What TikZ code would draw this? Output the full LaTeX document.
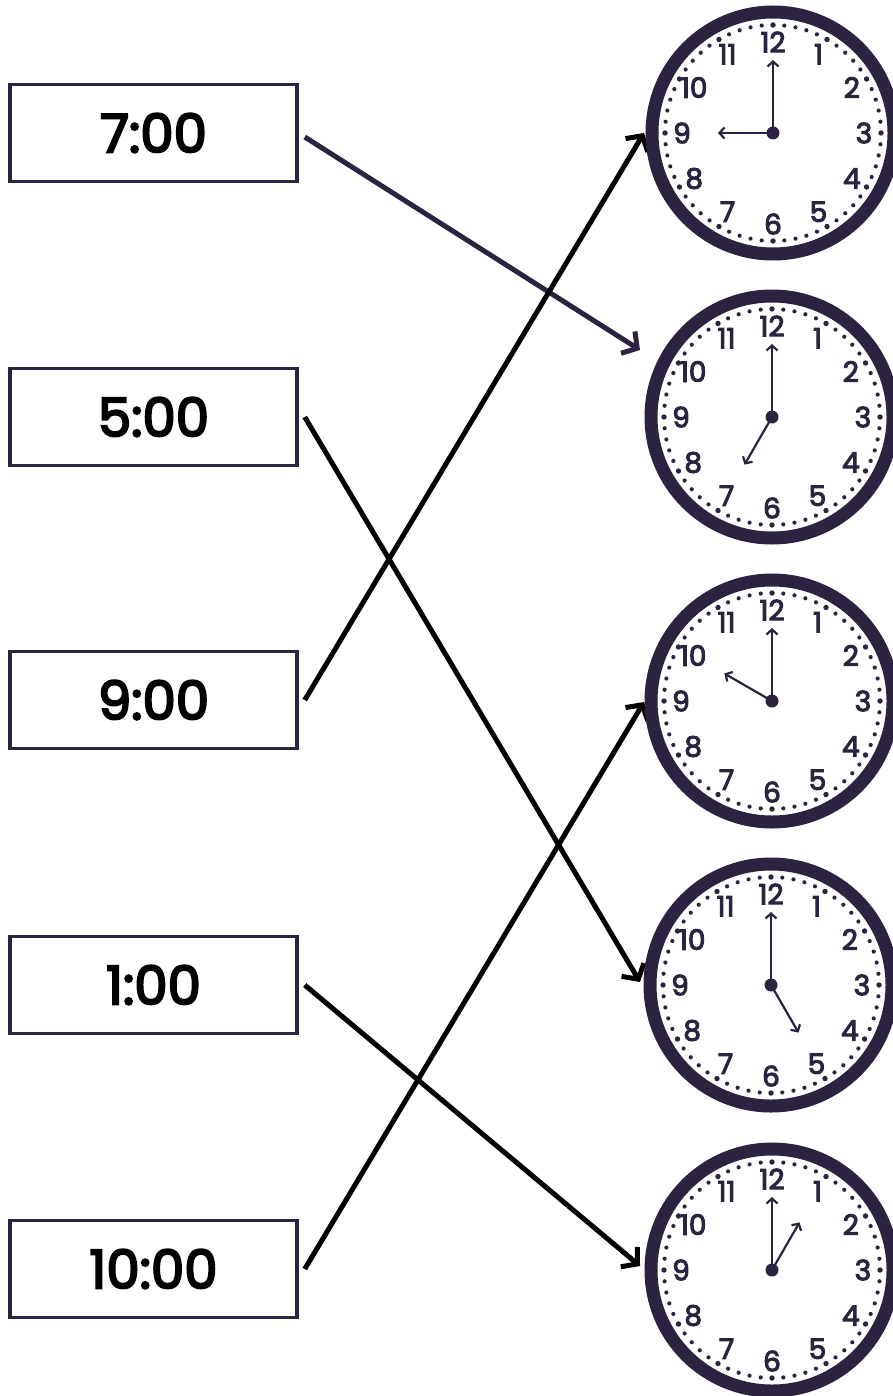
\documentclass[tikz,border=0pt]{standalone}
\usepackage{fontspec}
\setmainfont{Poppins}
\newfontfamily\labfont{Poppins}[FakeBold=4]
\newfontfamily\numfont{Poppins}[FakeBold=3.5]
\usetikzlibrary{arrows.meta}
\definecolor{ink}{HTML}{2B2340}
\tikzset{
  tbox/.style={draw=ink, line width=3.5pt, fill=white, minimum width=287pt, minimum height=97pt,
    inner sep=0pt, font=\labfont\fontsize{53}{60}\selectfont},
  link/.style={line width=5pt, -{Straight Barb[length=11pt,width=26pt,line width=5pt]}},
  hand/.style={ink, line width=2.2pt, -{Straight Barb[length=5pt,width=11pt,line width=2.2pt]}},
  numtxt/.style={text=ink, inner sep=0pt, font=\numfont\fontsize{28}{28}\selectfont},
  clock/.pic={
    \fill[white] (0,0) circle[radius=121pt];
    \draw[ink, line width=13pt] (0,0) circle[radius=121pt];
    \foreach \m in {0,...,59} {\fill[ink] ({108*sin(6*\m)},{-108*cos(6*\m)}) circle[radius=2.1pt];}
    \foreach \h in {0,...,11} {\fill[ink] ({108*sin(30*\h)},{-108*cos(30*\h)}) circle[radius=2.7pt];}
    \foreach \n in {1,...,12} {\node[numtxt] (n\n) at ({91*sin(30*\n)},{-91*cos(30*\n)}) {\n};}
    \draw[hand] (0,0) -- (0,-73);
    \draw[hand] (0,0) -- ({55*sin(#1)},{-55*cos(#1)});
    \fill[ink] (0,0) circle[radius=6.5pt];
  }
}
\begin{document}
\begin{tikzpicture}[x=1pt,y=-1pt]
\useasboundingbox (0,0) rectangle (893,1396);
% boxes
\node[tbox] (b7) at (153.5,133) {7:00};
\node[tbox] (b5) at (153.5,417) {5:00};
\node[tbox] (b9) at (153.5,700) {9:00};
\node[tbox] (b1) at (153.5,985) {1:00};
\node[tbox] (b10) at (153.5,1269) {10:00};
% arrow targets
\coordinate (t1) at (644,133);
\coordinate (t2) at (640,350);
\coordinate (t3) at (644,702);
\coordinate (t4) at (640,982);
\coordinate (t5) at (640,1266);
% arrows
\draw[link, ink] ([shift={(6,4)}]b7.east) -- (t2);
\draw[link] ([xshift=6pt]b5.east) -- (t4);
\draw[link] ([xshift=6pt]b9.east) -- (t1);
\draw[link] ([xshift=6pt]b1.east) -- (t5);
\draw[link] ([xshift=6pt]b10.east) -- (t3);
% clocks
\pic (c1) at (773,133) {clock=270};
\pic (c2) at (772,417) {clock=210};
\pic (c3) at (772,701) {clock=300};
\pic (c4) at (771,985) {clock=150};
\pic (c5) at (772,1270) {clock=30};
\end{tikzpicture}
\end{document}
